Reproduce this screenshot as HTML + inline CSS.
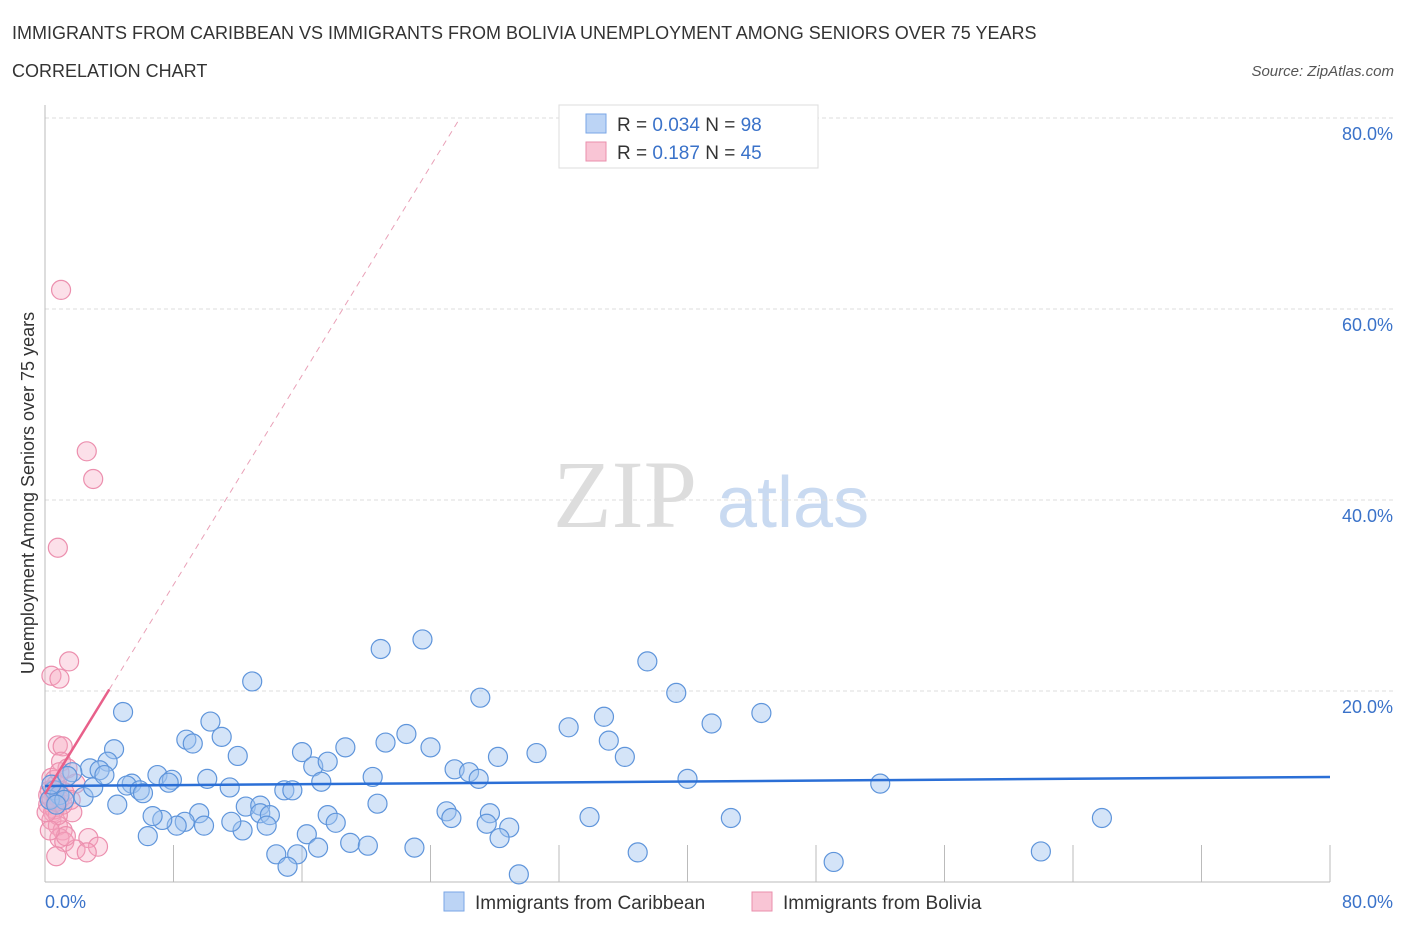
<!DOCTYPE html>
<html><head><meta charset="utf-8"><style>
body{margin:0;background:#fff;width:1406px;height:930px;overflow:hidden;font-family:"Liberation Sans",sans-serif}
</style></head><body>
<svg id="chart" width="1406" height="930" xmlns="http://www.w3.org/2000/svg">
<text x="12" y="39" font-size="18" fill="#333">IMMIGRANTS FROM CARIBBEAN VS IMMIGRANTS FROM BOLIVIA UNEMPLOYMENT AMONG SENIORS OVER 75 YEARS</text>
<text x="12" y="77" font-size="18" fill="#333">CORRELATION CHART</text>
<text x="1394" y="76" font-size="15" fill="#555" font-style="italic" text-anchor="end">Source: ZipAtlas.com</text>
<g>
<text x="553" y="527" font-size="96" fill="#ddd" font-family="Liberation Serif,serif">ZIP</text>
<text x="717" y="527" font-size="72" fill="#c9daf1">atlas</text>
</g>
<g id="grid"></g><g id="axes"></g><g id="marks"></g>
<text transform="translate(34,493) rotate(-90)" font-size="18" fill="#333" text-anchor="middle">Unemployment Among Seniors over 75 years</text>
<text x="45" y="908" font-size="18" fill="#3a72c9">0.0%</text>
<text x="1393" y="908" font-size="18" fill="#3a72c9" text-anchor="end">80.0%</text>
<g>
<rect x="559" y="105" width="259" height="63" fill="#fff" stroke="#ddd"/>
<rect x="586" y="114" width="20" height="19" fill="#bcd4f5" stroke="#7aa6e6"/>
<rect x="586" y="142" width="20" height="19" fill="#f9c5d5" stroke="#ea8fac"/>
<text x="617" y="131" font-size="19" fill="#333">R = <tspan fill="#3a72c9">0.034</tspan>   N = <tspan fill="#3a72c9">98</tspan></text>
<text x="617" y="159" font-size="19" fill="#333">R =  <tspan fill="#3a72c9"> 0.187</tspan>   N = <tspan fill="#3a72c9">45</tspan></text>
</g>
<g>
<rect x="444" y="892" width="20" height="19" fill="#bcd4f5" stroke="#7aa6e6"/>
<text x="475" y="909" font-size="19" fill="#333">Immigrants from Caribbean</text>
<rect x="752" y="892" width="20" height="19" fill="#f9c5d5" stroke="#ea8fac"/>
<text x="783" y="909" font-size="19" fill="#333">Immigrants from Bolivia</text>
</g>
</svg>
<script>
const yTicks=[20,40,60,80];
const yTickLabels=["20.0%","40.0%","60.0%","80.0%"];
const xTicks=[8,16,24,32,40,48,56,64,72,80];
const blueX=[4.86,12.9,20.9,23.5,37.5,39.3,27.1,44.6,41.5,34.8,32.6,35.1,36.1,30.6,28.2,22.5,21.2,24.0,18.7,16.0,16.7,17.6,17.2,20.4,25.5,26.4,27.0,40.0,52.0,65.8,42.7,33.9,10.3,11.0,8.8,9.2,12.0,4.3,3.9,2.8,3.4,1.7,1.4,2.4,3.0,3.7,5.4,5.1,5.9,6.1,7.0,7.9,7.7,10.1,11.5,12.5,13.4,13.4,14.0,14.9,15.4,20.7,25.0,25.3,27.7,27.5,28.9,28.3,17.6,18.1,13.8,12.3,11.6,9.6,8.7,8.2,9.9,7.3,6.7,4.5,6.4,16.3,17.0,19.0,20.1,23.0,15.7,14.4,15.1,36.9,49.1,62.0,29.5,0.6,0.9,0.3,1.2,0.7,0.4];
const blueY=[17.8,21.0,24.4,25.4,23.1,19.8,19.3,17.7,16.6,17.3,16.2,14.8,13.1,13.5,13.1,15.5,14.6,14.1,14.1,13.6,12.1,12.6,10.5,11.0,11.8,11.5,10.8,10.8,10.3,6.7,6.7,6.8,16.8,15.2,14.9,14.5,13.2,13.9,12.6,11.9,11.7,11.5,11.1,8.9,9.9,11.2,10.3,10.1,9.6,9.3,11.2,10.7,10.4,10.8,9.9,7.9,8.0,7.2,7.0,9.6,9.6,8.2,7.4,6.7,7.2,6.1,5.7,4.6,7.0,6.2,5.9,5.4,6.3,7.2,6.3,5.9,5.9,6.5,6.9,8.1,4.8,5.0,3.6,4.1,3.8,3.6,2.9,2.9,1.6,3.1,2.1,3.2,0.8,9.6,9.1,8.6,8.6,8.1,10.2];
const pinkX=[1.0,2.6,3.0,0.8,1.5,0.4,0.9,0.8,1.1,1.0,1.4,0.4,1.9,0.3,0.6,0.9,0.2,0.5,1.7,0.4,0.8,1.1,2.7,0.9,1.2,3.3,1.9,2.6,0.7,1.3,0.3,0.6,0.8,1.1,0.2,0.5,0.7,1.2,1.6,0.3,0.6,0.9,0.1,0.4,0.7];
const pinkY=[62.0,45.1,42.2,35.0,23.1,21.6,21.3,14.3,14.2,12.6,11.9,10.9,10.3,9.6,9.1,8.6,8.1,7.3,7.3,6.5,5.9,5.4,4.6,4.6,4.2,3.7,3.4,3.1,2.7,4.8,8.6,7.6,7.0,8.1,9.1,9.6,10.2,9.4,8.6,5.4,10.7,11.5,7.3,8.8,8.4];
const blueTrend=[10.05,11.0]; // y at x=0, x=80
const pinkTrend=[9.2,2.74]; // intercept, slope
const pinkSolidEnd=4.0;

const X0=45,X1=1330,Y0=882,Y1=118;
const sx=v=>X0+(X1-X0)*v/80, sy=v=>Y0-(Y0-Y1)*v/80;
const NS="http://www.w3.org/2000/svg";
function mk(parent,tag,attrs){const e=document.createElementNS(NS,tag);for(const k in attrs)e.setAttribute(k,attrs[k]);document.getElementById(parent).appendChild(e);return e;}
yTicks.forEach((t,i)=>{
 const l=mk('grid','line',{x1:X0,x2:1395,y1:sy(t),y2:sy(t),stroke:'#ddd','stroke-dasharray':'4,3'});
 
 
 const tx=mk('grid','text',{x:1393,y:sy(t)+22,'font-size':18,fill:'#3a72c9','text-anchor':'end'});
 tx.textContent=yTickLabels[i];
 
 
});
const ya=mk('axes','line',{x1:X0,x2:X0,y1:105,y2:Y0,stroke:'#bbb'});


const xa=mk('axes','line',{x1:X0,x2:X1,y1:Y0,y2:Y0,stroke:'#bbb'});


xTicks.forEach(t=>{
 const l=mk('axes','line',{x1:sx(t),x2:sx(t),y1:Y0,y2:Y0-37,stroke:'#bbb'});
 
 
});
pinkX.forEach((x,i)=>{
 const c=mk('marks','circle',{cx:sx(x),cy:sy(pinkY[i]),r:9.5,fill:'rgba(246,165,192,0.35)',stroke:'#ec8fae','stroke-width':1.2});
 
 
});
blueX.forEach((x,i)=>{
 const c=mk('marks','circle',{cx:sx(x),cy:sy(blueY[i]),r:9.5,fill:'rgba(160,196,240,0.45)',stroke:'#5f95db','stroke-width':1.2});
 
 
});
const bt=mk('marks','line',{x1:sx(0),y1:sy(blueTrend[0]),x2:sx(80),y2:sy(blueTrend[1]),stroke:'#2b6fd6','stroke-width':2.5});


const xEnd=(80-pinkTrend[0])/pinkTrend[1];
const pd=mk('marks','line',{x1:sx(pinkSolidEnd),y1:sy(pinkTrend[0]+pinkTrend[1]*pinkSolidEnd),x2:sx(xEnd),y2:sy(80),stroke:'#e9a0b7','stroke-width':1,'stroke-dasharray':'6,5'});


const ps=mk('marks','line',{x1:sx(0),y1:sy(pinkTrend[0]),x2:sx(pinkSolidEnd),y2:sy(pinkTrend[0]+pinkTrend[1]*pinkSolidEnd),stroke:'#e8608a','stroke-width':2.5});


</script>
</body></html>
